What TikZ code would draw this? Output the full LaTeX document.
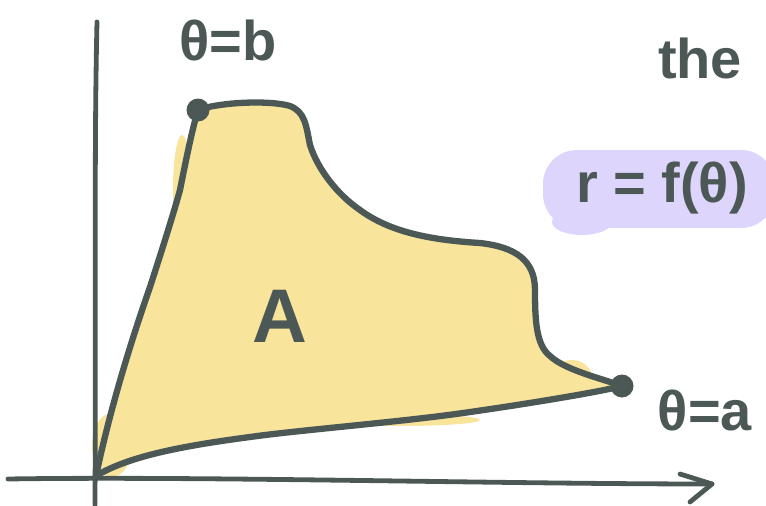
\documentclass[tikz,border=0pt]{standalone}
\usepackage{fontspec}
\setmainfont{Liberation Sans}
\definecolor{ink}{HTML}{4C5856}
\definecolor{fillyel}{HTML}{F8E49B}
\definecolor{lav}{HTML}{DDD5FB}
\tikzset{
  curve/.style={draw=ink, line width=6.3pt, line cap=round, line join=round},
  axis/.style={draw=ink, line width=4.8pt, line cap=round},
  lbl/.style={text=ink, font=\fontsize{56}{60}\selectfont\bfseries, inner sep=0pt},
  pt/.style={circle, fill=ink, minimum size=23pt, inner sep=0pt}
}
\begin{document}
\begin{tikzpicture}[x=1pt,y=-1pt]
\useasboundingbox (0,0) rectangle (766,506);
% highlight
\fill[lav, rounded corners=34pt] (543,150) rectangle (775,228);
\fill[lav] (582,222) ellipse (30pt and 13pt);
% yellow fill
\fill[fillyel] (96,475) .. controls (112,400) and (135,330) .. (150,287)
  .. controls (160,250) and (172,210) .. (180,190)
  .. controls (186,160) and (192,130) .. (198,112)
  .. controls (220,102) and (270,100) .. (290,106)
  .. controls (305,112) and (306,125) .. (310,145)
  .. controls (318,170) and (338,195) .. (360,210)
  .. controls (390,232) and (430,240) .. (480,243)
  .. controls (515,247) and (535,260) .. (535,290)
  .. controls (535,320) and (536,345) .. (550,356)
  .. controls (565,370) and (600,378) .. (622,386)
  .. controls (600,392) and (520,405) .. (463,413)
  .. controls (400,422) and (300,430) .. (250,437)
  .. controls (190,445) and (130,455) .. (96,475) -- cycle;
\fill[fillyel] (182,190) ellipse (9pt and 55pt);
\fill[fillyel] (112,445) ellipse (20pt and 32pt);
\fill[fillyel] (572,378) ellipse (20pt and 18pt);
\fill[fillyel] (400,420) ellipse (80pt and 6pt);
% axes
\coordinate (ytop) at (97,22);
\coordinate (ybot) at (95,505);
\coordinate (xl) at (8,479);
\coordinate (xr) at (712,484);
\coordinate (bu) at (680,474);
\coordinate (bd) at (690,502);
\draw[axis] (ybot) .. controls (96,300) and (94,150) .. (ytop);
\draw[axis] (xl) .. controls (200,476) and (500,484) .. (xr);
\draw[axis, line join=round] (bu) -- (xr) -- (bd);
% points
\node[pt] (b) at (198,110) {};
\node[pt] (a) at (622,386) {};
\coordinate (o) at (96,476);
% curve
\draw[curve] (o) .. controls (112,400) and (135,330) .. (150,287)
  .. controls (162,250) and (174,212) .. (180,190)
  .. controls (186,160) and (192,130) .. (b.center);
\draw[curve] (b.center) .. controls (220,102) and (270,100) .. (290,106)
  .. controls (305,112) and (306,125) .. (310,145)
  .. controls (318,170) and (338,195) .. (360,210)
  .. controls (390,232) and (430,240) .. (480,243)
  .. controls (515,247) and (535,260) .. (535,290)
  .. controls (535,320) and (536,345) .. (550,356)
  .. controls (565,370) and (600,378) .. (a.center);
\draw[curve] (a.center) .. controls (600,392) and (520,405) .. (463,413)
  .. controls (400,422) and (300,430) .. (250,437)
  .. controls (190,445) and (130,455) .. (o);
% labels
\node[lbl] (lb) at (228,40) {θ=b};
\node[lbl] (lthe) at (700,58) {the};
\node[lbl] (lr) at (662,188) {r = f(θ)};
\node[lbl, font=\fontsize{76}{80}\selectfont\bfseries] (lA) at (280,316) {A};
\node[lbl] (la) at (705,410) {θ=a};
\end{tikzpicture}
\end{document}
